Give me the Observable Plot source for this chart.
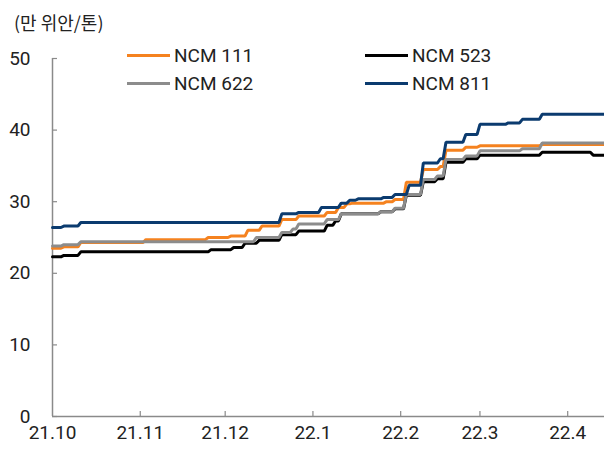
<!DOCTYPE html>
<html>
<head>
<meta charset="utf-8">
<script src="https://cdn.jsdelivr.net/npm/d3@7"></script>
<script src="https://cdn.jsdelivr.net/npm/@observablehq/plot@0.6"></script>
<style>
  html, body { margin: 0; padding: 0; background: #fff; }
  #wrap { position: relative; width: 604px; height: 450px; overflow: hidden;
          font-family: Roboto, "Noto Sans CJK KR", sans-serif; color: #222; }
  #unit { position: absolute; left: 14px; top: 9px; font-size: 18px;
          font-family: "Noto Sans CJK KR", Roboto, sans-serif; color: #222; }
  .leg { position: absolute; display: flex; align-items: center; font-size: 19px; color: #222; }
  .leg span.sw { display: inline-block; width: 43px; height: 3px; margin-right: 4px; }
</style>
</head>
<body>
<div id="wrap"></div>
<script>
// ---- data ----
const seriesNames = ["NCM 111", "NCM 523", "NCM 622", "NCM 811"];
const seriesColors = ["#f5821f", "#000000", "#8c8c8c", "#0b3b6f"];

const ncm111 = [
  ["2021-10-01", 23.5], ["2021-10-05", 23.7], ["2021-10-11", 24.3], ["2021-11-03", 24.7],
  ["2021-11-25", 25.0], ["2021-12-03", 25.2], ["2021-12-09", 26.0], ["2021-12-14", 26.6],
  ["2021-12-21", 27.5], ["2021-12-27", 28.0], ["2022-01-06", 28.5], ["2022-01-10", 29.2],
  ["2022-01-13", 29.7], ["2022-01-15", 29.8], ["2022-01-27", 30.0], ["2022-01-30", 30.3],
  ["2022-02-03", 32.7], ["2022-02-09", 34.5], ["2022-02-15", 34.9], ["2022-02-17", 37.2],
  ["2022-02-24", 37.6], ["2022-03-01", 37.8], ["2022-03-23", 38.0], ["2022-04-14", 38.0]
];
const ncm523 = [
  ["2021-10-01", 22.3], ["2021-10-05", 22.5], ["2021-10-11", 23.0], ["2021-11-26", 23.3],
  ["2021-12-04", 23.6], ["2021-12-08", 24.2], ["2021-12-13", 24.6], ["2021-12-21", 25.4],
  ["2021-12-27", 25.9], ["2022-01-06", 26.7], ["2022-01-09", 27.3], ["2022-01-11", 28.3],
  ["2022-01-25", 28.6], ["2022-01-30", 29.0], ["2022-02-03", 30.9], ["2022-02-09", 32.8],
  ["2022-02-14", 33.2], ["2022-02-17", 35.5], ["2022-02-24", 36.0], ["2022-03-01", 36.5],
  ["2022-03-23", 36.9], ["2022-04-10", 36.5], ["2022-04-14", 36.5]
];
const ncm622 = [
  ["2021-10-01", 23.8], ["2021-10-05", 24.0], ["2021-10-11", 24.4], ["2021-12-12", 25.0],
  ["2021-12-21", 25.7], ["2021-12-25", 26.2], ["2021-12-27", 26.9], ["2022-01-06", 27.5],
  ["2022-01-11", 28.3], ["2022-01-25", 28.6], ["2022-01-30", 29.1], ["2022-02-03", 31.0],
  ["2022-02-09", 33.1], ["2022-02-14", 33.6], ["2022-02-17", 35.9], ["2022-02-24", 36.4],
  ["2022-03-01", 37.1], ["2022-03-16", 37.4], ["2022-03-23", 38.2], ["2022-04-14", 38.2]
];
const ncm811 = [
  ["2021-10-01", 26.4], ["2021-10-05", 26.6], ["2021-10-11", 27.1], ["2021-12-21", 28.3],
  ["2021-12-27", 28.5], ["2022-01-04", 29.2], ["2022-01-11", 29.8], ["2022-01-14", 30.2],
  ["2022-01-17", 30.4], ["2022-01-26", 30.6], ["2022-01-30", 31.0], ["2022-02-04", 32.3],
  ["2022-02-09", 35.4], ["2022-02-15", 36.0], ["2022-02-17", 38.3], ["2022-02-24", 39.4],
  ["2022-03-01", 40.8], ["2022-03-11", 41.0], ["2022-03-16", 41.5], ["2022-03-23", 42.2],
  ["2022-04-14", 42.2]
];
const seriesData = [ncm111, ncm523, ncm622, ncm811];

const xTickDates = ["2021-10-01", "2021-11-01", "2021-12-01", "2022-01-01", "2022-02-01", "2022-03-01", "2022-04-01"];
const xTickLabels = ["21.10", "21.11", "21.12", "22.1", "22.2", "22.3", "22.4"];
const yTicks = [0, 10, 20, 30, 40, 50];
const xDomain = ["2021-10-01", "2022-04-14"];
const unitLabel = "(만 위안/톤)";

// ---- build table ----
const DAY = 86400000;
const rows = [];
const drawOrder = [0, 1, 2, 3];
drawOrder.forEach(si => {
  const pts = seriesData[si];
  pts.forEach((p, i) => {
    const d = new Date(p[0] + "T00:00:00Z");
    if (i > 0 && pts[i - 1][1] !== p[1]) {
      rows.push({s: seriesNames[si], date: new Date(+d - DAY), v: pts[i - 1][1]});
    }
    rows.push({s: seriesNames[si], date: d, v: p[1]});
  });
});

const W = 604, H = 450, mL = 52, mR = 0, mT = 58, mB = 34;
const xTicks = xTickDates.map(s => new Date(s + "T00:00:00Z"));
const labelMap = new Map(xTicks.map((d, i) => [+d, xTickLabels[i]]));
const axisColor = "#8a8a8a";

const chart = Plot.plot({
  width: W, height: H,
  marginLeft: mL, marginRight: mR, marginTop: mT, marginBottom: mB,
  style: {fontFamily: "Roboto, 'Noto Sans CJK KR', sans-serif", fontSize: "19px", color: "#222", background: "#fff"},
  x: {type: "utc", domain: xDomain.map(s => new Date(s + "T00:00:00Z")), axis: null},
  y: {domain: [0, 50], axis: null},
  color: {domain: seriesNames, range: seriesColors},
  marks: [
    Plot.ruleX([xTicks[0]], {stroke: axisColor, strokeWidth: 1.5}),
    Plot.ruleY([0], {stroke: axisColor, strokeWidth: 1.5}),
    Plot.tickY(yTicks, {y: d => d, stroke: axisColor, strokeWidth: 1.2, insetRight: W - mL - mR - 5}),
    Plot.tickX(xTicks.slice(1), {x: d => d, stroke: axisColor, strokeWidth: 1.2, insetTop: H - mT - mB - 5}),
    Plot.text(yTicks, {y: d => d, text: d => String(d), frameAnchor: "left", dx: -22, textAnchor: "end", fill: "#222", fontSize: 19}),
    Plot.text(xTicks, {x: d => d, text: d => labelMap.get(+d), frameAnchor: "bottom", dy: 22, fill: "#222", fontSize: 19}),
    Plot.line(rows, {x: "date", y: "v", z: "s", stroke: "s", strokeWidth: 3, curve: "linear", strokeLinejoin: "miter"})
  ]
});

const wrap = document.getElementById("wrap");
wrap.appendChild(chart);

const unit = document.createElement("div");
unit.id = "unit";
unit.textContent = unitLabel;
wrap.appendChild(unit);

const legPos = [[127, 55], [365, 55], [127, 83], [365, 83]];
seriesNames.forEach((name, i) => {
  const el = document.createElement("div");
  el.className = "leg";
  el.style.left = legPos[i][0] + "px";
  el.style.top = (legPos[i][1] - 12) + "px";
  el.style.height = "24px";
  const sw = document.createElement("span");
  sw.className = "sw";
  sw.style.background = seriesColors[i];
  el.appendChild(sw);
  el.appendChild(document.createTextNode(name));
  wrap.appendChild(el);
});
</script>
</body>
</html>
